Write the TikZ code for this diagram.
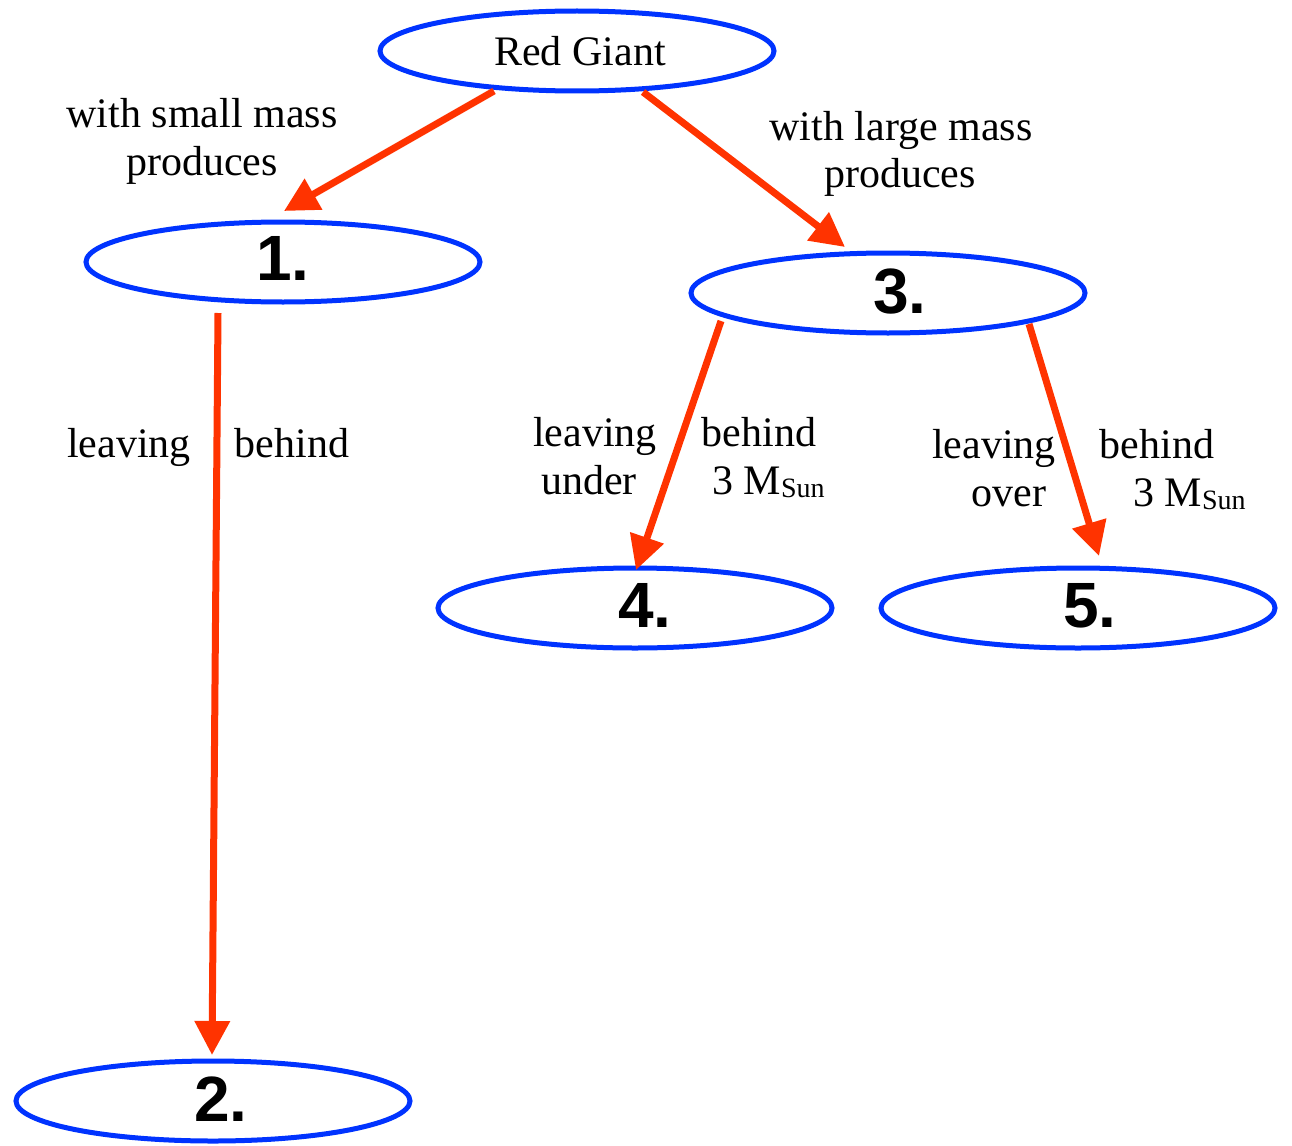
\documentclass[tikz,border=0pt]{standalone}
\usepackage{fontspec}
\setmainfont{Liberation Serif}
\newfontfamily\numfont{Liberation Sans}
\usetikzlibrary{arrows.meta,calc,shapes.geometric}
\definecolor{eblue}{RGB}{0,51,255}
\definecolor{ared}{RGB}{255,51,0}
\newcommand{\msun}{M\raisebox{-3pt}{\fontsize{28}{30}\selectfont Sun}}
\newcommand{\numup}[2]{\raisebox{#1}{#2}}
\tikzset{
  oval/.style={draw=eblue, line width=5pt, ellipse, minimum width=394pt, minimum height=80pt, inner sep=0pt},
  numtxt/.style={font=\numfont\bfseries\fontsize{64}{66}\selectfont},
  arr/.style={draw=ared, line width=7pt, -{Triangle[length=34pt,width=34pt]}},
  lbl/.style={font=\fontsize{42}{46}\selectfont, inner sep=0pt, anchor=base},
  lbll/.style={lbl, anchor=base west}
}
\begin{document}
\begin{tikzpicture}[x=1pt,y=-1pt]
\useasboundingbox (0,0) rectangle (1292,1145);
% nodes
\node[oval, font=\fontsize{42}{46}\selectfont] (rg) at (577,51) {\hspace*{6pt}Red Giant};
\node[oval, numtxt] (n1) at (283,262) {\numup{8pt}{1.}};
\node[oval, numtxt] (n3) at (888,293) {\hspace*{24pt}\numup{4pt}{3.}};
\node[oval, numtxt] (n4) at (635,608) {\hspace*{20pt}\numup{5pt}{4.}};
\node[oval, numtxt] (n5) at (1078,608) {\hspace*{24pt}\numup{5pt}{5.}};
\node[oval, numtxt] (n2) at (213,1101) {\hspace*{16pt}\numup{4pt}{2.}};
% connectors
\draw[arr] ($(rg.center)+(-83,40)$) -- ($(n1.center)+(1,-51)$);
\draw[arr] ($(rg.center)+(66,41)$) -- ($(n3.center)+(-43,-46)$);
\draw[arr] ($(n1.center)+(-65,51)$) -- ($(n2.center)+(-1,-46)$);
\draw[arr] ($(n3.center)+(-167,28)$) -- ($(n4.center)+(1,-38)$);
\draw[arr] ($(n3.center)+(141,31)$) -- ($(n5.center)+(21,-52)$);
% labels
\node[lbl] (t1a) at (202,128) {with small mass};
\node[lbl] (t1b) at (202,175) {produces};
\node[lbl] (t2a) at (901,140) {with large mass};
\node[lbl] (t2b) at (900,187) {produces};
\node[lbl] (t3a) at (129,457) {leaving};
\node[lbl] (t3b) at (292,457) {behind};
\node[lbl] (t4a) at (595,446) {leaving};
\node[lbl] (t4b) at (589,494) {under};
\node[lbl] (t4c) at (759,446) {behind};
\node[lbll] (t4d) at (712,494) {3 \msun};
\node[lbl] (t5a) at (994,458) {leaving};
\node[lbl] (t5b) at (1009,506) {over};
\node[lbl] (t5c) at (1157,458) {behind};
\node[lbll] (t5d) at (1133,506) {3 \msun};
\end{tikzpicture}
\end{document}
